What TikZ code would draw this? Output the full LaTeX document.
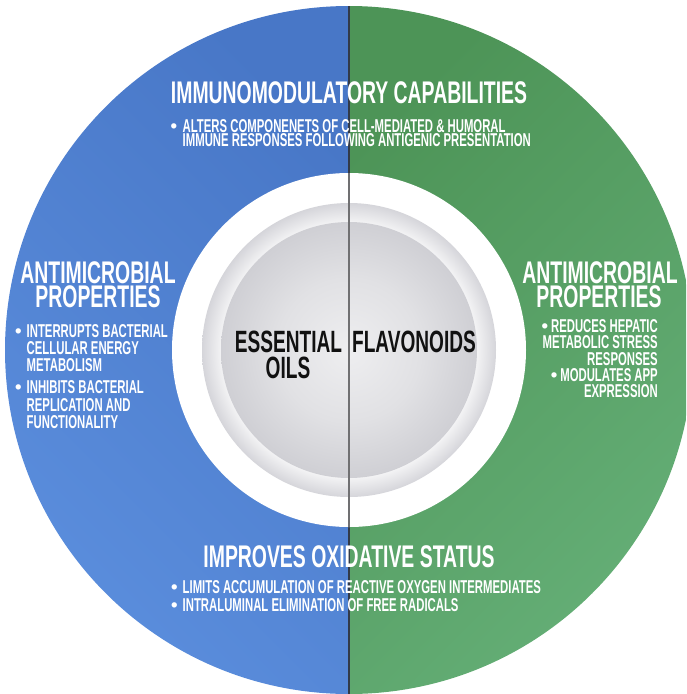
\documentclass[tikz,border=0pt]{standalone}
\usepackage{fontspec}
\newfontfamily\cond{Liberation Sans}[FakeStretch=0.62]
\newfontfamily\condb{Liberation Sans}[FakeStretch=0.61]
\newfontfamily\plainsans{Liberation Sans}
\newcommand\ttlfont{\cond\bfseries\fontsize{31.3}{31.3}\selectfont}
\newcommand\bodfont{\condb\bfseries\fontsize{18.6}{18.6}\selectfont}
\newcommand\ctrfont{\cond\bfseries\fontsize{30.8}{30.8}\selectfont}
\newcommand\dotb{{\plainsans\bfseries\fontsize{18.6}{18.6}\selectfont •}}

\definecolor{blueL}{HTML}{5B8EDD}
\definecolor{blueD}{HTML}{4877C7}
\definecolor{greenD}{HTML}{4D9457}
\definecolor{greenL}{HTML}{65AF77}
\definecolor{rimin}{HTML}{F6F6F7}
\definecolor{rimout}{HTML}{D5D5DA}
\definecolor{diskin}{HTML}{EEEEF0}
\definecolor{diskmid}{HTML}{E1E1E4}
\definecolor{diskout}{HTML}{CFCFD4}
\definecolor{divdark}{HTML}{323A48}
\definecolor{divgrey}{HTML}{707072}
\definecolor{ink}{HTML}{111111}

% raised rim around the central disk (path edge sits at 25bp)
\pgfdeclareradialshading{rimshade}{\pgfpoint{0bp}{0bp}}{%
  color(0bp)=(rimin); color(21.4bp)=(rimin); color(25bp)=(rimout); color(50bp)=(rimout)}
% central disk, lighter in the middle
\pgfdeclareradialshading{diskshade}{\pgfpoint{0bp}{0bp}}{%
  color(0bp)=(diskin); color(14bp)=(diskmid); color(25bp)=(diskout); color(50bp)=(diskout)}

\begin{document}
\begin{tikzpicture}[x=1pt,y=-1pt,
  ttl/.style={font=\ttlfont, text=white, inner sep=0pt, anchor=base,
    text height=22pt, text depth=0pt},
  bod/.style={font=\bodfont, text=white, inner sep=0pt, anchor=base west,
    text height=13pt, text depth=0pt},
  bodr/.style={bod, anchor=base east},
  bul/.style={bod, anchor=base},
  ctr/.style={font=\ctrfont, text=ink, inner sep=0pt, anchor=base,
    text height=22pt, text depth=0pt},
  divider/.style={draw=divdark, line width=2pt},
  innerdiv/.style={draw=divgrey, line width=1.6pt}]
\useasboundingbox (0,0) rectangle (686,694);
\clip (0,0) rectangle (686,694);

\coordinate (C) at (349,350);

% outer disc: blue half and green half
\begin{scope}
  \clip (C) circle[radius=344pt];
  \shade[top color=blueD, bottom color=blueL, shading angle=-45] (0,0) rectangle (349,700);
  \shade[top color=greenD, bottom color=greenL, shading angle=45] (349,0) rectangle (700,700);
\end{scope}

% dividing line
\coordinate (T) at (349,6);
\coordinate (B) at (349,694);
\draw[divider] (T) -- (B);

% white ring and grey centre
\fill[white] (C) circle[radius=177pt];
\shade[shading=rimshade] (C) circle[radius=147pt];
\shade[shading=diskshade] (C) circle[radius=128pt];
\coordinate (Ti) at (349,173);
\coordinate (Bi) at (349,527);
\draw[innerdiv] (Ti) -- (Bi);

% top block
\node[ttl] (immT) at (349,103) {IMMUNOMODULATORY CAPABILITIES};
\node[bul] (immB) at (174,132) {\dotb};
\node[bod] (imm1) at (182.5,132) {ALTERS COMPONENETS OF CELL-MEDIATED \& HUMORAL};
\node[bod] (imm2) at (182.5,146) {IMMUNE RESPONSES FOLLOWING ANTIGENIC PRESENTATION};

% left block
\node[ttl] (amlT1) at (98,283) {ANTIMICROBIAL};
\node[ttl] (amlT2) at (98,307) {PROPERTIES};
\node[bul] (amlB1) at (18.5,337) {\dotb};
\node[bod] (aml1) at (26.5,337) {INTERRUPTS BACTERIAL};
\node[bod] (aml2) at (26.5,354) {CELLULAR ENERGY};
\node[bod] (aml3) at (26.5,371) {METABOLISM};
\node[bul] (amlB2) at (18.5,393) {\dotb};
\node[bod] (aml4) at (26.5,393) {INHIBITS BACTERIAL};
\node[bod] (aml5) at (26.5,411) {REPLICATION AND};
\node[bod] (aml6) at (26.5,428) {FUNCTIONALITY};

% right block
\node[ttl] (amrT1) at (600,283) {ANTIMICROBIAL};
\node[ttl] (amrT2) at (599,307) {PROPERTIES};
\node[bodr] (amr1) at (658,332) {\dotb\hspace{3pt}REDUCES HEPATIC};
\node[bodr] (amr2) at (658,348) {METABOLIC STRESS};
\node[bodr] (amr3) at (658,365) {RESPONSES};
\node[bodr] (amr4) at (658,381) {\dotb\hspace{3pt}MODULATES APP};
\node[bodr] (amr5) at (658,397) {EXPRESSION};

% bottom block
\node[ttl] (oxT) at (349,567) {IMPROVES OXIDATIVE STATUS};
\node[bul] (oxB1) at (174.5,593) {\dotb};
\node[bod] (ox1) at (182.5,593) {LIMITS ACCUMULATION OF REACTIVE OXYGEN INTERMEDIATES};
\node[bul] (oxB2) at (174.5,611) {\dotb};
\node[bod] (ox2) at (182.5,611) {INTRALUMINAL ELIMINATION OF FREE RADICALS};

% centre labels
\node[ctr] (eo1) at (288.5,352) {ESSENTIAL};
\node[ctr] (eo2) at (288,378) {OILS};
\node[ctr] (fl) at (414,352) {FLAVONOIDS};
\end{tikzpicture}
\end{document}
